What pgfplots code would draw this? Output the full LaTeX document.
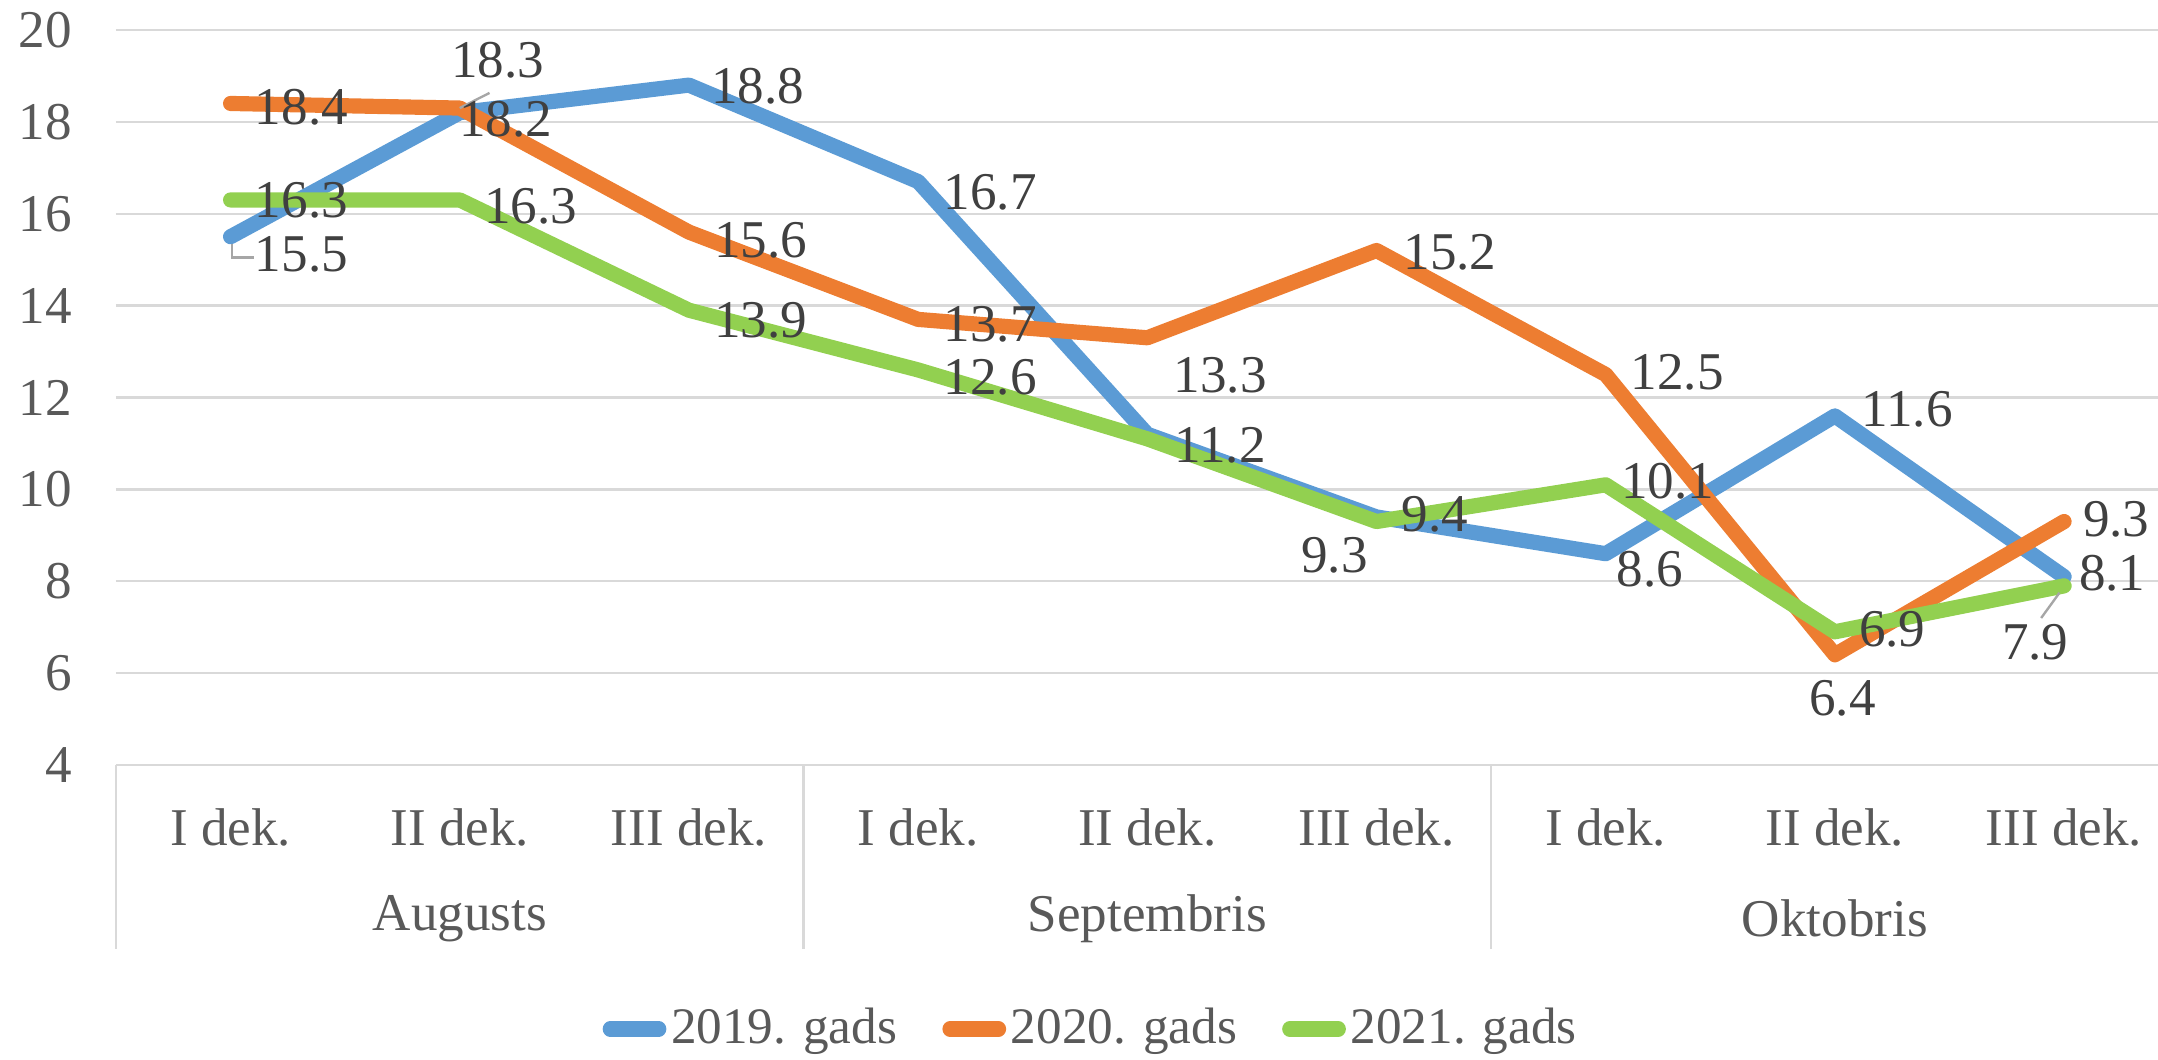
\documentclass[border=0pt]{standalone}
\usepackage{fontspec}
\setmainfont{Liberation Serif}
\usepackage{pgfplots}
\pgfplotsset{compat=1.18}
\definecolor{c19}{HTML}{5B9BD5}
\definecolor{c20}{HTML}{ED7D31}
\definecolor{c21}{HTML}{92D050}
\definecolor{gridc}{HTML}{D9D9D9}
\definecolor{tickc}{HTML}{595959}
\definecolor{lblc}{HTML}{404040}

\begin{document}
\begin{tikzpicture}[font=\fontsize{11.2}{13}\selectfont,
  lbl/.style={text=lblc, inner sep=0pt, anchor=center}]
\path[use as bounding box] (-0.860cm,-2.180cm) rectangle (15.14cm,5.672cm);
\begin{axis}[
  at={(0,0)}, anchor=south west,
  scale only axis, width=15.14cm, height=5.45cm,
  xmin=-0.5, xmax=8.41, ymin=4, ymax=20,
  ytick={4,6,...,20},
  xtick={0,...,8},
  xticklabels={I dek., II dek., III dek., I dek., II dek., III dek., I dek., II dek., III dek.},
  axis line style={draw=none},
  ymajorgrids, grid style={gridc, line width=0.5pt},
  major tick length=0pt,
  tick label style={text=tickc, inner sep=0pt},
  /pgf/number format/assume math mode=true,
  yticklabel style={xshift=-0.32cm},
  xticklabel style={anchor=center, yshift=-0.46cm},
  clip=false,
  legend columns=3,
  legend style={at={(0.478,0)}, anchor=center, yshift=-1.957cm,
    draw=none, fill=none, text=tickc, inner sep=0pt,
    font=\fontsize{10.8}{13}\selectfont,
    nodes={inner sep=1pt},
    /tikz/every even column/.append style={column sep=0.3cm}},
  legend image code/.code={\draw[#1, line width=3.2pt, line cap=round] (0cm,0cm) -- (0.36cm,0cm);},
  every axis plot/.append style={line width=3.2pt, line cap=round, line join=round},
]
% category separators
\draw[gridc, line width=0.5pt] (axis cs:-0.5,4) -- ([yshift=-1.364cm]axis cs:-0.5,4);
\draw[gridc, line width=0.5pt] (axis cs:2.5,4) -- ([yshift=-1.364cm]axis cs:2.5,4);
\draw[gridc, line width=0.5pt] (axis cs:5.5,4) -- ([yshift=-1.364cm]axis cs:5.5,4);
\node[text=tickc] at (axis cs:1,4) [yshift=-1.14cm] {Augusts};
\node[text=tickc] at (axis cs:4,4) [yshift=-1.14cm] {Septembris};
\node[text=tickc] at (axis cs:7,4) [yshift=-1.14cm] {Oktobris};

\addplot[c19] coordinates {(0,15.5)(1,18.2)(2,18.8)(3,16.7)(4,11.2)(5,9.4)(6,8.6)(7,11.6)(8,8.1)};
\addlegendentry{2019. gads}
\addplot[c20] coordinates {(0,18.4)(1,18.3)(2,15.6)(3,13.7)(4,13.3)(5,15.2)(6,12.5)(7,6.4)(8,9.3)};
\addlegendentry{2020. gads}
\addplot[c21] coordinates {(0,16.3)(1,16.3)(2,13.9)(3,12.6)(4,11.1)(5,9.3)(6,10.1)(7,6.9)(8,7.9)};
\addlegendentry{2021. gads}

% leader lines
\draw[gray!70, line width=0.5pt] (axis cs:0.005,15.35) |- (axis cs:0.1,15.05);
\draw[gray!70, line width=0.5pt] (axis cs:1.0,18.3) -- (axis cs:1.13,18.63);
\draw[gray!70, line width=0.5pt] (axis cs:7.98,7.75) -- (axis cs:7.9,7.2);

% data labels 2019
\node[lbl] at (axis cs:0.309,15.12) {15.5};
\node[lbl] at (axis cs:1.201,18.05) {18.2};
\node[lbl] at (axis cs:2.30,18.77) {18.8};
\node[lbl] at (axis cs:3.315,16.47) {16.7};
\node[lbl] at (axis cs:4.318,10.96) {11.2};
\node[lbl] at (axis cs:5.255,9.46) {9.4};
\node[lbl] at (axis cs:6.192,8.26) {8.6};
\node[lbl] at (axis cs:7.315,11.74) {11.6};
\node[lbl] at (axis cs:8.21,8.17) {8.1};
% data labels 2020
\node[lbl] at (axis cs:0.309,18.32) {18.4};
\node[lbl] at (axis cs:1.165,19.34) {18.3};
\node[lbl] at (axis cs:2.312,15.42) {15.6};
\node[lbl] at (axis cs:3.315,13.59) {13.7};
\node[lbl] at (axis cs:4.318,12.49) {13.3};
\node[lbl] at (axis cs:5.321,15.15) {15.2};
\node[lbl] at (axis cs:6.312,12.54) {12.5};
\node[lbl] at (axis cs:7.033,5.45) {6.4};
\node[lbl] at (axis cs:8.228,9.34) {9.3};
% data labels 2021
\node[lbl] at (axis cs:0.309,16.29) {16.3};
\node[lbl] at (axis cs:1.309,16.17) {16.3};
\node[lbl] at (axis cs:2.312,13.68) {13.9};
\node[lbl] at (axis cs:3.315,12.43) {12.6};
\node[lbl] at (axis cs:4.817,8.56) {9.3};
\node[lbl] at (axis cs:6.27,10.18) {10.1};
\node[lbl] at (axis cs:7.25,6.95) {6.9};
\node[lbl] at (axis cs:7.874,6.68) {7.9};
\end{axis}
\end{tikzpicture}
\end{document}
